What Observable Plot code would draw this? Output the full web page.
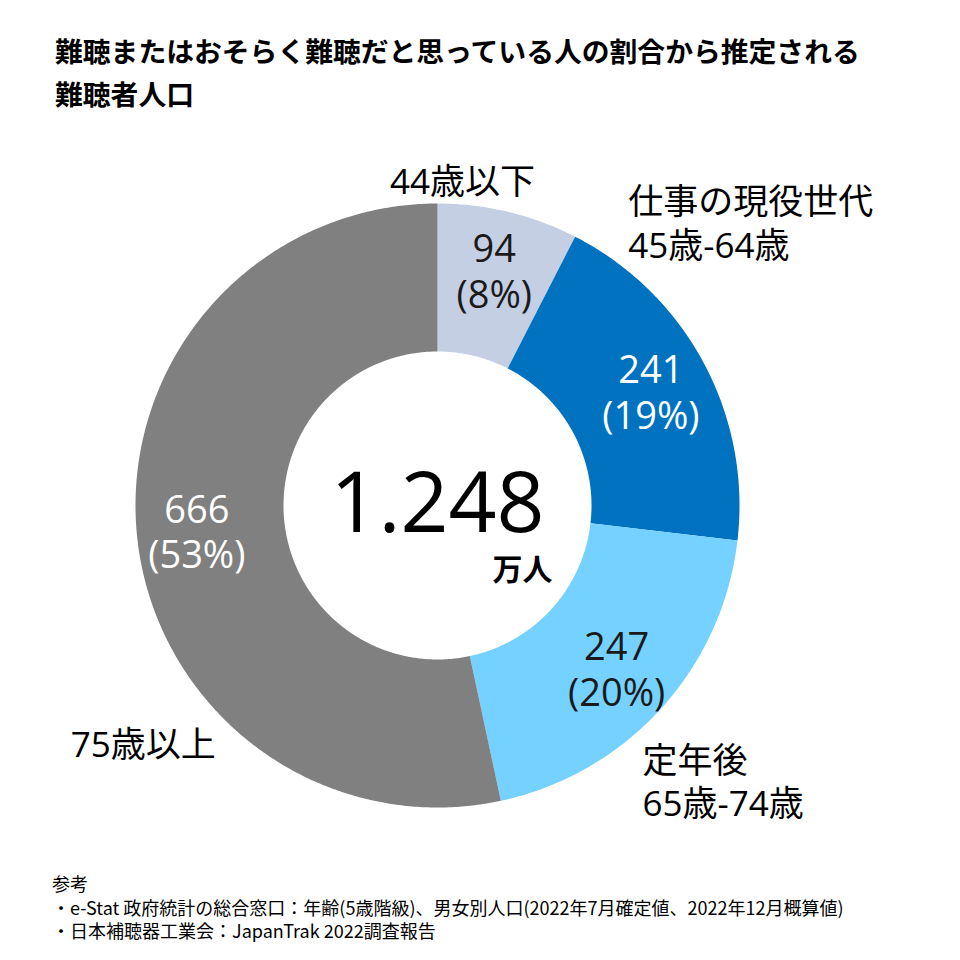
<!DOCTYPE html>
<html><head><meta charset="utf-8">
<script src="https://cdn.jsdelivr.net/npm/d3@7"></script>
<script src="https://cdn.jsdelivr.net/npm/@observablehq/plot@0.6"></script>
<style>
body{margin:0;background:#fff}
#wrap{position:relative;width:960px;height:960px;overflow:hidden;background:#fff}
#title{position:absolute;left:55px;top:29px;margin:0;font-family:"Noto Sans CJK JP";font-weight:700;font-size:27.8px;line-height:43px;color:#000;white-space:nowrap}
#chart{position:absolute;left:0;top:130px}
#note{position:absolute;left:52px;top:872px;font-family:"Noto Sans CJK JP";font-size:18px;line-height:23.5px;color:#000;white-space:nowrap}
</style></head><body>
<div id="wrap">
<h1 id="title">難聴またはおそらく難聴だと思っている人の割合から推定される<br>難聴者人口</h1>
<div id="chart"></div>
<div id="note">参考<br>・e-Stat 政府統計の総合窓口：年齢(5歳階級)、男女別人口(2022年7月確定値、2022年12月概算値)<br>・日本補聴器工業会：JapanTrak 2022調査報告</div>
</div>
<script>
// ---- data ----
const groups = ["44歳以下", "45歳-64歳", "65歳-74歳", "75歳以上"];
const values = [94, 241, 247, 666];
const groupLabels = ["44歳以下", "仕事の現役世代\n45歳-64歳", "定年後\n65歳-74歳", "75歳以上"];
const totalUnit = "万人";

// ---- styles ----
const sliceColors = ["#c5cfe3", "#0072bf", "#75d1ff", "#808080"];
const R = 302, r0 = 154, rLabel = 242;
// outer label placement: [angle deg clockwise from top, radius, anchor]
const outerPlacement = [[4.4, 326, "middle"], [33.9, 342, "start"], [143.3, 343, "start"], [223, 325, "end"]];

const total = d3.sum(values);
const fmt = d3.formatLocale({decimal: ",", thousands: ".", grouping: [3], currency: ["", ""]}).format(",d");

let acc = 0;
const slices = values.map((v, i) => {
  const a0 = acc / total * 2 * Math.PI; acc += v;
  const a1 = acc / total * 2 * Math.PI;
  return {group: groups[i], value: v, share: v / total, a0, a1, mid: (a0 + a1) / 2, i};
});

function arcRing(a0, a1) {
  const n = Math.max(2, Math.ceil((a1 - a0) / (Math.PI / 360)));
  const outer = d3.range(n + 1).map(k => { const a = a0 + (a1 - a0) * k / n; return [R * Math.sin(a), R * Math.cos(a)]; });
  const inner = d3.range(n + 1).map(k => { const a = a1 - (a1 - a0) * k / n; return [r0 * Math.sin(a), r0 * Math.cos(a)]; });
  const ring = outer.concat(inner); ring.push(ring[0]);
  return ring;
}
const features = slices.map(s => ({type: "Feature", properties: s, geometry: {type: "Polygon", coordinates: [arcRing(s.a0, s.a1)]}}));
const frame = {type: "Polygon", coordinates: [[[-437, -345], [523, -345], [523, 375], [-437, 375], [-437, -345]]]};

const isLight = s => d3.hsl(sliceColors[s.i]).l > 0.6;
const outer = slices.map((s, i) => {
  const [deg, rr, anchor] = outerPlacement[i];
  const a = deg * Math.PI / 180;
  return {text: groupLabels[i], x: rr * Math.sin(a), y: rr * Math.cos(a), anchor};
});
const latin = "'Open Sans', 'Noto Sans CJK JP', sans-serif";

const chart = Plot.plot({
  width: 960, height: 720, margin: 0,
  projection: {type: "reflect-y", domain: frame},
  color: {domain: groups, range: sliceColors},
  style: {background: "transparent"},
  marks: [
    Plot.geo(features, {fill: d => d.properties.group}),
    Plot.text(slices.filter(isLight), {x: d => rLabel * Math.sin(d.mid), y: d => rLabel * Math.cos(d.mid), text: d => `${d.value}\n(${Math.round(d.share * 100)}%)`, fill: "#1a1a1a", fontSize: 38, lineHeight: 1.2, fontFamily: latin}),
    Plot.text(slices.filter(s => !isLight(s)), {x: d => rLabel * Math.sin(d.mid), y: d => rLabel * Math.cos(d.mid), text: d => `${d.value}\n(${Math.round(d.share * 100)}%)`, fill: "#ffffff", fontSize: 38, lineHeight: 1.2, fontFamily: latin}),
    ...["start", "middle", "end"].map(anc => Plot.text(outer.filter(d => d.anchor === anc), {x: "x", y: "y", text: "text", textAnchor: anc, fill: "#000", fontSize: 35, lineHeight: 1.25, fontFamily: latin})),
    Plot.text([total], {x: () => 0, y: () => 0, text: d => fmt(d), fontSize: 84, fill: "#000", fontFamily: latin}),
    Plot.text([totalUnit], {x: () => 85, y: () => -65, text: d => d, fontSize: 30, fontWeight: 700, fill: "#000", fontFamily: "'Noto Sans CJK JP', sans-serif"})
  ]
});
document.getElementById("chart").appendChild(chart);
</script>
</body></html>
